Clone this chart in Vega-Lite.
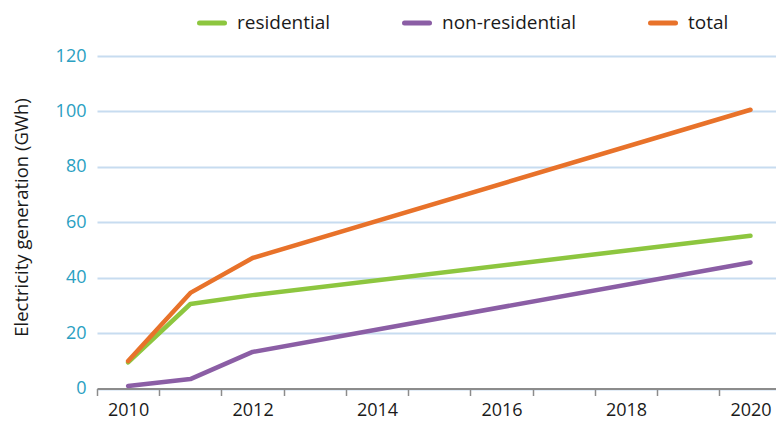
{
  "$schema": "https://vega.github.io/schema/vega-lite/v6.json",
  "autosize": "none",
  "width": 679,
  "height": 332.5,
  "padding": {"left": 97, "top": 56, "right": 0, "bottom": 38.5},
  "background": "white",
  "config": {
    "view": {"stroke": null},
    "font": "Open Sans"
  },
  "data": {
    "values": [
      {"year": 2010, "series": "residential", "value": 9.4},
      {"year": 2011, "series": "residential", "value": 30.5},
      {"year": 2012, "series": "residential", "value": 33.7},
      {"year": 2020, "series": "residential", "value": 55.1},
      {"year": 2010, "series": "non-residential", "value": 0.9},
      {"year": 2011, "series": "non-residential", "value": 3.4},
      {"year": 2012, "series": "non-residential", "value": 13.2},
      {"year": 2020, "series": "non-residential", "value": 45.5},
      {"year": 2010, "series": "total", "value": 9.9},
      {"year": 2011, "series": "total", "value": 34.5},
      {"year": 2012, "series": "total", "value": 47.1},
      {"year": 2020, "series": "total", "value": 100.6}
    ]
  },
  "mark": {"type": "line", "strokeWidth": 4.5, "strokeCap": "round", "strokeJoin": "round"},
  "encoding": {
    "x": {
      "field": "year",
      "type": "quantitative",
      "scale": {"domain": [2009.5, 2020.41], "nice": false, "zero": false},
      "axis": {
        "title": null,
        "grid": false,
        "values": [2009.5, 2010, 2010.5, 2011, 2011.5, 2012, 2012.5, 2013, 2013.5, 2014, 2014.5, 2015, 2015.5, 2016, 2016.5, 2017, 2017.5, 2018, 2018.5, 2019, 2019.5, 2020],
        "labelExpr": "datum.value % 2 == 0 ? format(datum.value, 'd') : ''",
        "labelOverlap": false,
        "labelFlush": false,
        "labelBound": false,
        "labelDx": 5,
        "labelFontSize": 18,
        "labelColor": "#1a1a1a",
        "labelPadding": 6,
        "domainColor": "#8c8c8c",
        "domainWidth": 2,
        "tickColor": "#8c8c8c",
        "tickWidth": 1.5,
        "tickSize": 7,
        "tickOpacity": {"condition": {"test": "datum.value % 1 != 0", "value": 1}, "value": 0}
      }
    },
    "y": {
      "field": "value",
      "type": "quantitative",
      "scale": {"domain": [0, 120], "nice": false},
      "axis": {
        "title": "Electricity generation  (GWh)",
        "titleFontSize": 18.5,
        "titleFontWeight": "normal",
        "titleColor": "#1a1a1a",
        "titleX": -76,
        "titleY": 161,
        "titleBaseline": "middle",
        "titleAlign": "center",
        "values": [0, 20, 40, 60, 80, 100, 120],
        "domain": false,
        "ticks": false,
        "labelFontSize": 18,
        "labelColor": "#2aa0c2",
        "labelPadding": 11,
        "gridColor": "#c7dcf0",
        "gridWidth": 2
      }
    },
    "color": {
      "field": "series",
      "type": "nominal",
      "scale": {
        "domain": ["residential", "non-residential", "total"],
        "range": ["#8dc63f", "#8b5ea5", "#e8722a"]
      },
      "legend": {
        "title": null,
        "orient": "none",
        "direction": "horizontal",
        "legendX": 100,
        "legendY": -48,
        "symbolType": "stroke",
        "symbolStrokeWidth": 5,
        "symbolSize": 625,
        "labelFontSize": 19,
        "labelColor": "#1a1a1a",
        "labelOffset": 10,
        "columnPadding": 63,
        "encode": {"symbols": {"update": {"strokeCap": {"value": "round"}}}}
      }
    }
  }
}
